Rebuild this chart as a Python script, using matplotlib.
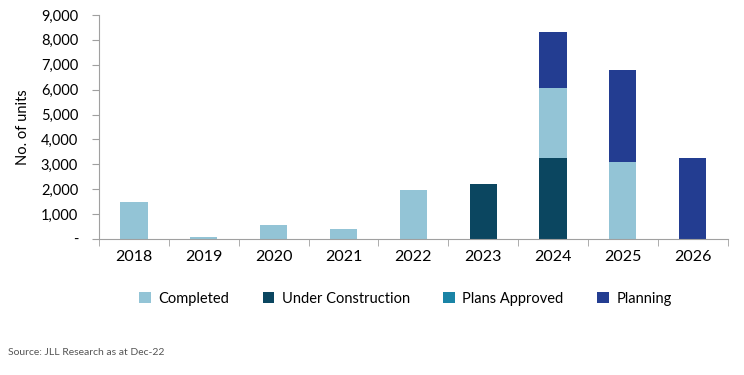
import numpy as np
import matplotlib
matplotlib.use("Agg")
from matplotlib import pyplot as plt
from matplotlib.ticker import FuncFormatter, MultipleLocator

years = ["2018", "2019", "2020", "2021", "2022", "2023", "2024", "2025", "2026"]
completed = [1500, 80, 550, 390, 1955, 0, 2840, 3090, 0]
under_construction = [0, 0, 0, 0, 0, 2200, 3240, 0, 0]
plans_approved = [0, 0, 0, 0, 0, 0, 0, 0, 0]
planning = [0, 0, 0, 0, 0, 0, 2220, 3700, 3240]

colours = {"Completed": "#93c4d6", "Under Construction": "#0b4660",
           "Plans Approved": "#1a84a6", "Planning": "#233d91"}

plt.rcParams['font.family'] = ['Lato', 'DejaVu Sans']
fig = plt.figure(figsize=(7.44, 3.75), dpi=100)
ax = fig.add_axes([0.133, 0.363, 0.845, 0.597])

x = np.arange(len(years))
width = 0.39
uc = np.array(under_construction)
comp = np.array(completed)
pa = np.array(plans_approved)
pl = np.array(planning)
b_uc = ax.bar(x, uc, width, color=colours["Under Construction"])
b_c = ax.bar(x, comp, width, bottom=uc, color=colours["Completed"])
b_pa = ax.bar(x, pa, width, bottom=uc + comp, color=colours["Plans Approved"])
b_pl = ax.bar(x, pl, width, bottom=uc + comp + pa, color=colours["Planning"])

ax.set_xlim(-0.5, len(years) - 0.5)
ax.set_ylim(0, 9000)
ax.yaxis.set_major_locator(MultipleLocator(1000))
ax.yaxis.set_major_formatter(FuncFormatter(lambda v, p: "-" if v == 0 else "{:,.0f}".format(v)))
ax.set_xticks(x)
ax.set_xticklabels(years)
ax.set_xticks(np.arange(len(years) + 1) - 0.5, minor=True)
ax.tick_params(axis='x', which='major', length=0, pad=8, labelsize=11.5)
ax.tick_params(axis='x', which='minor', length=5, color='#a0a0a0')
ax.tick_params(axis='y', length=5, color='#a0a0a0', labelsize=10.5, pad=10)
for s in ['top', 'right']:
    ax.spines[s].set_visible(False)
for s in ['left', 'bottom']:
    ax.spines[s].set_color('#a0a0a0')
ax.set_ylabel("No. of units", fontsize=10.5, labelpad=8)

fig.legend([b_c, b_uc, b_pa, b_pl],
           ["Completed", "Under Construction", "Plans Approved", "Planning"],
           loc='center', bbox_to_anchor=(0.545, 0.203), ncol=4, frameon=False,
           fontsize=10.5, handlelength=0.8, handleheight=0.8, handletextpad=0.5,
           columnspacing=2.3)

fig.text(0.011, 0.053, "Source: JLL Research as at Dec-22", fontsize=7.5, color='#555555')
fig.savefig("out.png", dpi=100)
